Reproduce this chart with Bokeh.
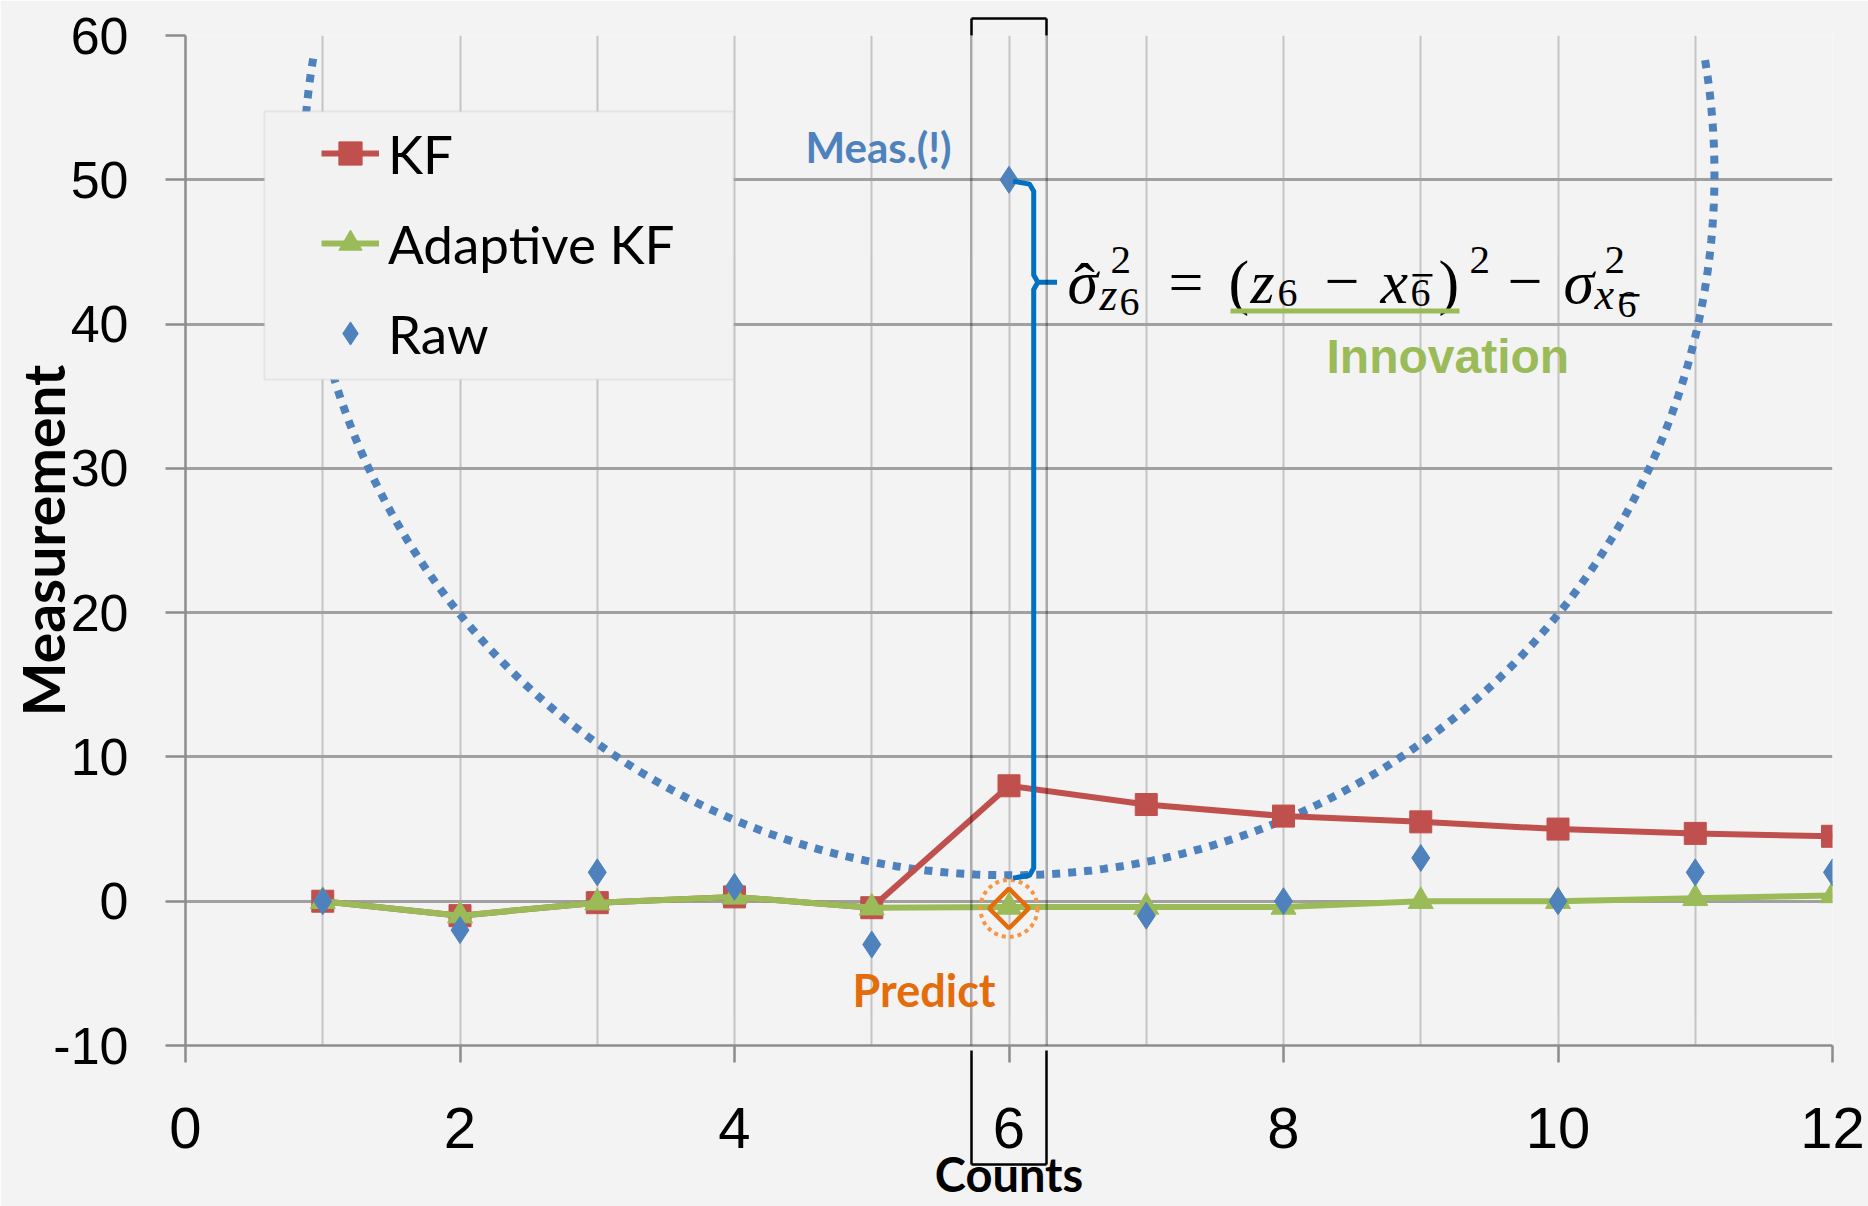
import numpy as np
from bokeh.plotting import figure
from bokeh.models import (Range1d, FixedTicker, Legend, LegendItem, Label,
                          BoxAnnotation, LinearAxis, CustomJSTickFormatter)
from bokeh.embed import file_html
from bokeh.resources import INLINE

# ---------------- data ----------------
counts = [1, 2, 3, 4, 5, 6, 7, 8, 9, 10, 11, 12]
kf = [0.0, -1.0, -0.1, 0.3, -0.45, 8.0, 6.7, 5.9, 5.5, 5.0, 4.7, 4.5]
adaptive_kf = [0.0, -1.0, -0.1, 0.3, -0.45, -0.4, -0.4, -0.4, 0.0, 0.0, 0.2, 0.4]
raw = [0, -2, 2, 1, -3, 50, -1, 0, 3, 0, 2, 2]
predict_count = [6]
predict_value = [-0.5]

x_ticks = [0, 2, 4, 6, 8, 10, 12]
x_grid = [1, 2, 3, 4, 5, 6, 7, 8, 9, 10, 11, 12]
y_ticks = [-10, 0, 10, 20, 30, 40, 50, 60]

# ---------------- annotation geometry ----------------
ELL_CX, ELL_CY, ELL_A, ELL_B, ELL_TOP = 6.0, 50.4, 5.14, 48.6, 58.4
HIGHLIGHT_COUNT = 6
HIGHLIGHT_HALF = 0.275
HL_LO, HL_HI = HIGHLIGHT_COUNT - HIGHLIGHT_HALF, HIGHLIGHT_COUNT + HIGHLIGHT_HALF
LABEL_DY = -16   # correction of Label baseline placement (canvas px)

RED = "#c0504d"
GREEN = "#9bbb59"
BLUE = "#4f81bd"
ORANGE = "#e46c0a"
BG = "#f3f3f3"
AXIS_GRAY = "#8c8c8c"

p = figure(width=1868, height=1206, title=None,
           x_range=Range1d(0, 12), y_range=Range1d(-10, 60),
           output_backend="svg", toolbar_location=None,
           min_border_left=185, min_border_right=36,
           min_border_top=35, min_border_bottom=161,
           background_fill_color=BG, border_fill_color=BG,
           outline_line_color=None)

xax = p.xaxis[0]
yax = p.yaxis[0]

# axes
xax.ticker = FixedTicker(ticks=x_ticks)
yax.ticker = FixedTicker(ticks=y_ticks)
yax.major_label_overrides = {t: f"{t}" for t in y_ticks}
p.xgrid.ticker = FixedTicker(ticks=x_grid)
p.xgrid.grid_line_color = "#c4c4c4"
p.xgrid.grid_line_width = 2
p.ygrid.grid_line_color = "#a0a0a0"
p.ygrid.grid_line_width = 3

for ax in (xax, yax):
    ax.axis_line_color = AXIS_GRAY
    ax.axis_line_width = 2.5
    ax.major_tick_line_color = AXIS_GRAY
    ax.major_tick_line_width = 2.5
    ax.major_tick_in = 0
    ax.minor_tick_line_color = None
    ax.major_label_text_color = "black"
    ax.axis_label_text_color = "black"
    ax.axis_label_text_font = "Lato"
    ax.axis_label_text_font_style = "bold"

yax.major_tick_out = 20
yax.major_label_standoff = 37
yax.major_label_text_font = "Liberation Sans"
yax.major_label_text_font_size = "52px"
yax.axis_label = "Measurement"
yax.axis_label_text_font_size = "57px"
yax.axis_label_standoff = -27

xax.major_tick_out = 17
xax.major_label_standoff = 45
xax.major_label_text_font = "Liberation Sans"
xax.major_label_text_font_size = "58px"
# small spacer so that the next axis line lands at the box's bottom edge
xax.axis_label = " "
xax.axis_label_text_font_size = "9px"
xax.axis_label_standoff = 0

# second bottom axis: bottom edge + lower sides of the highlight box, and the title
ax_b = LinearAxis(ticker=FixedTicker(ticks=[HL_LO, HL_HI]), bounds=(HL_LO, HL_HI),
                  formatter=CustomJSTickFormatter(code="return '';"),
                  axis_line_color="black", axis_line_width=2.5,
                  major_tick_out=0, major_tick_in=114,
                  major_tick_line_color="black", major_tick_line_width=2.5,
                  major_label_standoff=0, major_label_text_font_size="1px",
                  minor_tick_line_color=None,
                  axis_label="Counts", axis_label_standoff=-19,
                  axis_label_text_font="Lato", axis_label_text_font_style="bold",
                  axis_label_text_font_size="47px", axis_label_text_color="black")
p.add_layout(ax_b, "below")

# top part of the highlight box (above the frame)
ax_t1 = LinearAxis(ticker=FixedTicker(ticks=[], minor_ticks=[HL_LO, HL_HI]),
                   axis_line_color=None, major_tick_out=17, major_tick_in=0,
                   major_tick_line_color=None, major_label_standoff=0,
                   minor_tick_in=0, minor_tick_out=17,
                   minor_tick_line_color="black", minor_tick_line_width=2.5)
p.add_layout(ax_t1, "above")
ax_t2 = LinearAxis(ticker=FixedTicker(ticks=[]), bounds=(HL_LO, HL_HI),
                   axis_line_color="black", axis_line_width=2.5,
                   major_tick_out=0, major_tick_in=0, major_label_standoff=0,
                   major_tick_line_color=None, minor_tick_line_color=None)
p.add_layout(ax_t2, "above")

# dotted bowl (ellipse arc)
t0 = np.pi - np.arcsin((ELL_TOP - ELL_CY) / ELL_B)
t1 = 2 * np.pi + np.arcsin((ELL_TOP - ELL_CY) / ELL_B)
tt = np.linspace(t0, t1, 400)
p.line(ELL_CX + ELL_A * np.cos(tt), ELL_CY + ELL_B * np.sin(tt),
       line_color=BLUE, line_width=8, line_dash="8 8")

# series
kf_line = p.line(counts, kf, line_color=RED, line_width=6)
kf_pts = p.scatter(counts, kf, marker="square", size=22, fill_color=RED, line_color=RED)
ad_line = p.line(counts, adaptive_kf, line_color=GREEN, line_width=6)
ad_pts = p.scatter(counts, adaptive_kf, marker="triangle", size=25, fill_color=GREEN, line_color=GREEN)
raw_pts = p.scatter(counts, raw, marker="diamond", size=27, fill_color=BLUE, line_color=BLUE)

# predict marker
p.scatter(predict_count, predict_value, marker="square", angle=np.pi / 4, size=28,
          fill_alpha=0, line_color=ORANGE, line_width=4.5)
p.scatter(predict_count, predict_value, marker="circle", size=57,
          fill_alpha=0, line_color="#f79646", line_width=4, line_dash="4 4")

# brace between measurement and prediction
top_v = raw[counts.index(HIGHLIGHT_COUNT)]
bot_v = ELL_CY - ELL_B
bx = HIGHLIGHT_COUNT + 0.18
mid_v = 42.9
p.line([HIGHLIGHT_COUNT + 0.03, bx - 0.03, bx, bx, bx + 0.03, bx + 0.17],
       [top_v - 0.1, top_v - 0.3, top_v - 0.8, mid_v + 0.5, mid_v, mid_v],
       line_color="#0070c0", line_width=5, line_join="round")
p.line([bx + 0.03, bx, bx, bx - 0.03, HIGHLIGHT_COUNT + 0.03],
       [mid_v, mid_v - 0.5, bot_v + 0.5, bot_v, bot_v - 0.2],
       line_color="#0070c0", line_width=5, line_join="round")

# highlight box inside the frame
p.add_layout(BoxAnnotation(left=HL_LO, right=HL_HI, top=18, bottom=1163,
                           top_units="canvas", bottom_units="canvas",
                           fill_alpha=0, line_color="black", line_width=2.5))

# legend background box + legend
p.add_layout(BoxAnnotation(left=264, right=733, top=111, bottom=379,
                           left_units="canvas", right_units="canvas",
                           top_units="canvas", bottom_units="canvas",
                           fill_color="#f2f2f2", fill_alpha=1,
                           line_color="#c6c6c6", line_width=2))
legend = Legend(items=[LegendItem(label="KF", renderers=[kf_line, kf_pts]),
                       LegendItem(label="Adaptive KF", renderers=[ad_line, ad_pts]),
                       LegendItem(label="Raw", renderers=[raw_pts])],
                location=(136, 680), orientation="vertical",
                padding=0, spacing=26, margin=0,
                glyph_width=58, glyph_height=64, label_height=64,
                label_standoff=9, label_text_font="Lato",
                label_text_font_size="53px", label_text_color="black",
                background_fill_alpha=0, border_line_alpha=0)
p.add_layout(legend, "center")


def add_text(txt, x, y, size, style="normal", font="Liberation Serif",
             color="black", align="left"):
    p.add_layout(Label(x=x, y=y + LABEL_DY, x_units="canvas", y_units="canvas",
                       text=txt, text_font=font, text_font_size=f"{size}px",
                       text_font_style=style, text_color=color,
                       text_baseline="alphabetic", text_align=align))


def add_bar(left, right, top, bottom, color="black"):
    p.add_layout(BoxAnnotation(left=left, right=right, top=top, bottom=bottom,
                               left_units="canvas", right_units="canvas",
                               top_units="canvas", bottom_units="canvas",
                               fill_color=color, fill_alpha=1, line_alpha=0))


# formula: (text, left x, baseline y, size, style)
formula = [
    ("σ", 1067, 297, 62, "italic"),
    ("2", 1110, 275, 41, "normal"),
    ("z", 1099, 310, 46, "italic"),
    ("6", 1119, 317, 40, "normal"),
    ("=", 1168, 297, 62, "normal"),
    ("(", 1228, 297, 62, "normal"),
    ("z", 1250, 297, 62, "italic"),
    ("6", 1277, 308, 40, "normal"),
    ("−", 1324, 297, 62, "normal"),
    ("x", 1380, 297, 62, "italic"),
    ("6", 1410, 308, 40, "normal"),
    (")", 1438, 297, 62, "normal"),
    ("2", 1469, 275, 41, "normal"),
    ("−", 1507, 297, 62, "normal"),
    ("σ", 1563, 297, 62, "italic"),
    ("2", 1604, 275, 41, "normal"),
    ("x", 1594, 310, 44, "italic"),
    ("6", 1617, 320, 38, "normal"),
]
for txt, x, y, s, st in formula:
    add_text(txt, x, y, s, st)
add_text("ˆ", 1084, 300, 62, "normal", align="center")   # hat over sigma
add_bar(1412, 1432, 273.5, 276)                          # bar over 6
add_bar(1619, 1639, 293.5, 296)                          # bar over 6
add_bar(1230, 1459, 308, 313, color=GREEN)               # innovation underline

add_text("Innovation", 1326, 372, 48, "bold", font="Liberation Sans", color=GREEN)
add_text("Meas.(!)", 805, 162, 42, "bold", font="Lato", color=BLUE)
add_text("Predict", 852, 1005, 45, "bold", font="Lato", color=ORANGE)

open("out.html", "w").write(file_html(p, INLINE))
